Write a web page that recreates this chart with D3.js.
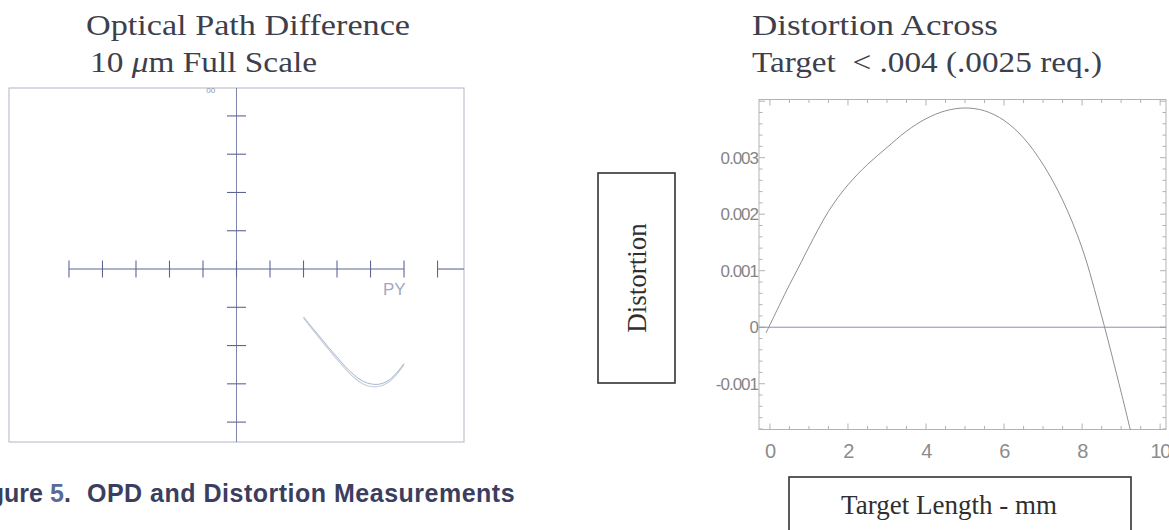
<!DOCTYPE html>
<html>
<head>
<meta charset="utf-8">
<script src="https://cdn.jsdelivr.net/npm/d3@7"></script>
<style>
  html, body { margin: 0; padding: 0; background: #ffffff; }
  svg { display: block; }
</style>
</head>
<body>
<svg id="chart" width="1169" height="530"></svg>
<script>
// ---------------- DATA ----------------
// Left: Optical Path Difference fan (PY vs OPD, 10 um full scale)
const opdPY   = [0.40, 0.45, 0.50, 0.55, 0.60, 0.65, 0.70, 0.75, 0.80, 0.85, 0.90, 0.95, 1.00];
const opdRayA = [-1.25, -1.52, -1.78, -2.05, -2.30, -2.55, -2.76, -2.92, -3.00, -3.01, -2.93, -2.74, -2.47];
const opdRayB = [-1.28, -1.56, -1.83, -2.10, -2.36, -2.61, -2.83, -2.99, -3.07, -3.07, -2.98, -2.78, -2.50];
const pyTicks  = [-1, -0.8, -0.6, -0.4, -0.2, 0, 0.2, 0.4, 0.6, 0.8, 1, 1.2];
const opdTicks = [-4, -3, -2, -1, 1, 2, 3, 4];

// Right: Distortion across target length
const targetLength = [-0.1, 0.25, 0.5, 0.75, 1.0, 1.5, 2.0, 2.5, 3.0, 3.5, 4.0, 4.5, 5.0, 5.5, 6.0, 6.5, 7.0, 7.5, 8.0, 8.5, 9.0, 9.3];
const distortion   = [-0.0001, 0.0004, 0.00075, 0.00108, 0.00142, 0.00205, 0.00252, 0.00288, 0.00318, 0.00347, 0.00369, 0.00383,
                      0.00388, 0.00383, 0.00366, 0.00335, 0.00288, 0.00225, 0.0014, 0.0002, -0.00115, -0.002];
const distXTicks = [0, 2, 4, 6, 8, 10];
const distXLabels = ["0", "2", "4", "6", "8", "10"];
const distYTicks = [-0.001, 0, 0.001, 0.002, 0.003];
const distYLabels = ["-0.001", "0", "0.001", "0.002", "0.003"];

// ---------------- DRAW ----------------
const svg = d3.select("#chart");
const serif = "'Liberation Serif', 'Times New Roman', serif";
const sans = "'Liberation Sans', Arial, sans-serif";

// ===== Left panel: OPD =====
const xL = d3.scaleLinear().domain([-1.358, 1.358]).range([9, 464]);
const yL = d3.scaleLinear().domain([-4.52, 4.73]).range([442, 88]);
const axisBlue = "#5d6596";

const gL = svg.append("g");
gL.append("rect")
  .attr("x", xL.range()[0]).attr("y", yL.range()[1])
  .attr("width", xL.range()[1] - xL.range()[0])
  .attr("height", yL.range()[0] - yL.range()[1])
  .attr("fill", "none").attr("stroke", "#b4b6c4").attr("stroke-width", 1);

// vertical axis
gL.append("line")
  .attr("x1", xL(0)).attr("x2", xL(0))
  .attr("y1", yL.range()[1]).attr("y2", yL.range()[0])
  .attr("stroke", "#7d84ad").attr("stroke-width", 1);
gL.selectAll("line.vt").data(opdTicks).join("line")
  .attr("class", "vt")
  .attr("x1", xL(0) - 9.5).attr("x2", xL(0) + 9.5)
  .attr("y1", d => yL(d)).attr("y2", d => yL(d))
  .attr("stroke", axisBlue).attr("stroke-width", 1.1);

// horizontal axis (two segments like the original)
gL.append("line")
  .attr("x1", xL(-1)).attr("x2", xL(1))
  .attr("y1", yL(0)).attr("y2", yL(0))
  .attr("stroke", axisBlue).attr("stroke-width", 1.1);
gL.append("line")
  .attr("x1", xL(1.2)).attr("x2", xL.range()[1])
  .attr("y1", yL(0)).attr("y2", yL(0))
  .attr("stroke", axisBlue).attr("stroke-width", 1.1);
gL.selectAll("line.ht").data(pyTicks).join("line")
  .attr("class", "ht")
  .attr("x1", d => xL(d)).attr("x2", d => xL(d))
  .attr("y1", yL(0) - 8.5).attr("y2", yL(0) + 8.5)
  .attr("stroke", axisBlue).attr("stroke-width", 1.1);

gL.append("text")
  .attr("x", xL(1) - 21).attr("y", yL(0) + 26)
  .attr("font-family", sans).attr("font-size", 17)
  .attr("fill", "#a3a8c0").text("PY");
gL.append("text")
  .attr("x", xL(-0.18)).attr("y", yL.range()[1] + 5)
  .attr("font-family", sans).attr("font-size", 8)
  .attr("fill", "#8c90ac").text("00");

const opdLine = d3.line().x((d, i) => xL(opdPY[i])).y(d => yL(d)).curve(d3.curveCatmullRom);
gL.append("path").datum(opdRayB).attr("d", opdLine)
  .attr("fill", "none").attr("stroke", "#c9cfd9").attr("stroke-width", 1.2);
gL.append("path").datum(opdRayA).attr("d", opdLine)
  .attr("fill", "none").attr("stroke", "#a2b6d2").attr("stroke-width", 1);

// Left titles
svg.append("text").attr("x", 86).attr("y", 35)
  .attr("font-family", serif).attr("font-size", 30).attr("fill", "#3d3f4c")
  .attr("textLength", 324).attr("lengthAdjust", "spacingAndGlyphs")
  .text("Optical Path Difference");
const t2 = svg.append("text").attr("x", 90).attr("y", 72)
  .attr("font-family", serif).attr("font-size", 30).attr("fill", "#3d3f4c")
  .attr("textLength", 227).attr("lengthAdjust", "spacingAndGlyphs");
t2.append("tspan").text("10 ");
t2.append("tspan").attr("font-style", "italic").text("\u03BC");
t2.append("tspan").text("m Full Scale");

// Caption (starts outside the picture on the left, as in the original)
const capY = 502;
const capStyle = sel => sel.attr("y", capY).attr("font-family", sans)
  .attr("font-size", 25).attr("font-weight", "bold");
svg.append("text").call(capStyle).attr("x", 43).attr("text-anchor", "end")
  .attr("fill", "#3b3e5e").text("Figure");
const capNum = svg.append("text").call(capStyle).attr("x", 50);
capNum.append("tspan").attr("fill", "#5a6b98").text("5");
capNum.append("tspan").attr("fill", "#3b3e5e").text(".");
svg.append("text").call(capStyle).attr("x", 87).attr("letter-spacing", 0.5)
  .attr("fill", "#3b3e5e").text("OPD and Distortion Measurements");

// ===== Right panel: Distortion =====
const xR = d3.scaleLinear().domain([-0.28, 10.15]).range([759, 1166]);
const yR = d3.scaleLinear().domain([-0.00181, 0.00403]).range([429.5, 99.5]);
const frameCol = "#b3b3b3";

const gR = svg.append("g");
const [fx0, fx1] = xR.range();
const [fy1, fy0] = yR.range();
gR.append("rect")
  .attr("x", fx0).attr("y", fy0).attr("width", fx1 - fx0).attr("height", fy1 - fy0)
  .attr("fill", "none").attr("stroke", frameCol).attr("stroke-width", 1);

// frame ticks
const xMinor = d3.range(0, 10.01, 0.5);
const yMinor = d3.range(-18, 41, 2).map(d => d / 10000);
const isMajX = d => Math.abs(d / 2 - Math.round(d / 2)) < 1e-6;
const isMajY = d => Math.abs(d * 1000 - Math.round(d * 1000)) < 1e-6;
gR.selectAll("line.xb").data(xMinor).join("line")
  .attr("x1", d => xR(d)).attr("x2", d => xR(d))
  .attr("y1", fy1).attr("y2", d => fy1 - (isMajX(d) ? 6 : 3.5))
  .attr("stroke", frameCol);
gR.selectAll("line.xt").data(xMinor).join("line")
  .attr("x1", d => xR(d)).attr("x2", d => xR(d))
  .attr("y1", fy0).attr("y2", d => fy0 + (isMajX(d) ? 6 : 3.5))
  .attr("stroke", frameCol);
gR.selectAll("line.yl").data(yMinor).join("line")
  .attr("y1", d => yR(d)).attr("y2", d => yR(d))
  .attr("x1", fx0).attr("x2", d => fx0 + (isMajY(d) ? 6 : 3.5))
  .attr("stroke", frameCol);
gR.selectAll("line.yr").data(yMinor).join("line")
  .attr("y1", d => yR(d)).attr("y2", d => yR(d))
  .attr("x1", fx1).attr("x2", d => fx1 - (isMajY(d) ? 6 : 3.5))
  .attr("stroke", frameCol);

// zero line
gR.append("line")
  .attr("x1", fx0).attr("x2", fx1).attr("y1", yR(0)).attr("y2", yR(0))
  .attr("stroke", "#8a90aa").attr("stroke-width", 1);

// tick labels
gR.selectAll("text.xl").data(distXTicks).join("text")
  .attr("x", d => xR(d)).attr("y", 458)
  .attr("text-anchor", "middle")
  .attr("font-family", sans).attr("font-size", 20).attr("letter-spacing", -1.5)
  .attr("fill", "#8c8c8c")
  .text((d, i) => distXLabels[i]);
gR.selectAll("text.yl").data(distYTicks).join("text")
  .attr("x", fx0 - 1).attr("y", d => yR(d) + 6)
  .attr("text-anchor", "end")
  .attr("font-family", sans).attr("font-size", 17).attr("letter-spacing", -1)
  .attr("fill", "#858585")
  .text((d, i) => distYLabels[i]);

// curve, clipped to frame
svg.append("clipPath").attr("id", "clipR").append("rect")
  .attr("x", fx0).attr("y", fy0).attr("width", fx1 - fx0).attr("height", fy1 - fy0);
const distLine = d3.line().x((d, i) => xR(targetLength[i])).y(d => yR(d)).curve(d3.curveCatmullRom);
gR.append("path").datum(distortion).attr("d", distLine)
  .attr("clip-path", "url(#clipR)")
  .attr("fill", "none").attr("stroke", "#8e8e8e").attr("stroke-width", 1);

// Right titles
svg.append("text").attr("x", 752).attr("y", 35)
  .attr("font-family", serif).attr("font-size", 30).attr("fill", "#3d3f4c")
  .attr("textLength", 246).attr("lengthAdjust", "spacingAndGlyphs")
  .text("Distortion Across");
svg.append("text").attr("x", 752).attr("y", 72)
  .attr("font-family", serif).attr("font-size", 30).attr("fill", "#3d3f4c")
  .attr("textLength", 350).attr("lengthAdjust", "spacingAndGlyphs")
  .attr("xml:space", "preserve")
  .text("Target  < .004 (.0025 req.)");

// Axis label boxes
svg.append("rect").attr("x", 598).attr("y", 173).attr("width", 77).attr("height", 210)
  .attr("fill", "none").attr("stroke", "#333333").attr("stroke-width", 1.6);
svg.append("text")
  .attr("transform", "translate(646,278) rotate(-90)")
  .attr("text-anchor", "middle")
  .attr("font-family", serif).attr("font-size", 27).attr("fill", "#2f2f2f")
  .text("Distortion");

svg.append("rect").attr("x", 789).attr("y", 477).attr("width", 342).attr("height", 70)
  .attr("fill", "none").attr("stroke", "#333333").attr("stroke-width", 1.6);
svg.append("text")
  .attr("x", 949).attr("y", 514)
  .attr("text-anchor", "middle")
  .attr("font-family", serif).attr("font-size", 27).attr("fill", "#2f2f2f")
  .text("Target Length - mm");
</script>
</body>
</html>
